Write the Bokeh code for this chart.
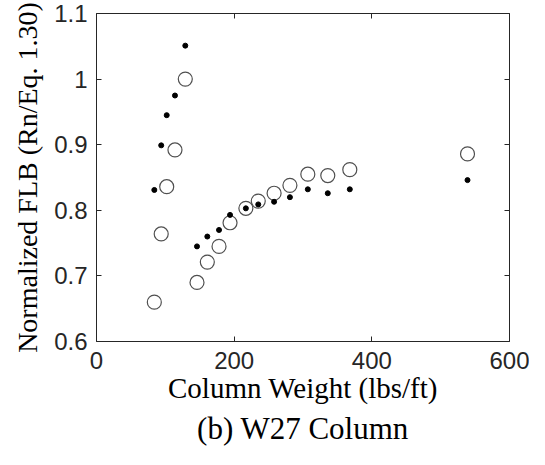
from bokeh.plotting import figure
from bokeh.models import LinearAxis, FixedTicker, CustomJSTickFormatter, Range1d
from bokeh.embed import file_html
from bokeh.resources import INLINE

weights = [84, 94, 102, 114, 129, 146, 161, 178, 194, 217, 235, 258, 281, 307, 336, 368, 539]
open_vals = [0.660, 0.764, 0.836, 0.892, 1.000, 0.690, 0.721, 0.745, 0.781, 0.803, 0.814, 0.826, 0.838, 0.855, 0.853, 0.862, 0.886]
dot_vals = [0.831, 0.899, 0.945, 0.975, 1.051, 0.745, 0.760, 0.770, 0.793, 0.803, 0.809, 0.813, 0.820, 0.832, 0.826, 0.832, 0.846]
x_ticks = [0, 200, 400, 600]
y_ticks = [0.6, 0.7, 0.8, 0.9, 1.0, 1.1]
x_title = "Column Weight (lbs/ft)"
y_title = "Normalized FLB (Rn/Eq. 1.30)"
chart_title = "(b) W27 Column"

AX = "#262626"
SERIF = "Liberation Serif"
SANS = "Liberation Sans"

W, H = 529, 449
FL, FR, FT, FB = 96, 509, 13, 341   # frame edges in figure pixels

p = figure(width=W, height=H, output_backend="svg", toolbar_location=None,
           x_range=Range1d(0, 600), y_range=Range1d(0.6, 1.1),
           min_border_left=FL, min_border_right=W - FR, min_border_top=FT,
           min_border_bottom=H - FB,
           x_axis_location=None, y_axis_location=None)
p.grid.visible = False
p.outline_line_color = None
p.background_fill_color = "white"

fmt = CustomJSTickFormatter(code="return String(Math.round(tick*10)/10);")

def style(ax, labels=True):
    ax.axis_line_color = AX
    ax.axis_line_width = 1
    ax.major_tick_in = 5
    ax.major_tick_out = 0
    ax.minor_tick_in = 0
    ax.minor_tick_out = 0
    ax.major_tick_line_color = AX
    if labels:
        ax.major_label_text_font = SANS
        ax.major_label_text_font_size = "24px"
        ax.major_label_text_color = AX
    else:
        ax.major_label_text_font_size = "0px"
        ax.major_label_standoff = 0
        ax.major_label_text_color = None

bx = LinearAxis(ticker=FixedTicker(ticks=x_ticks), formatter=fmt)
style(bx)
bx.major_label_standoff = 10
bx.axis_label = x_title
bx.axis_label_text_font = SERIF
bx.axis_label_text_font_style = "normal"
bx.axis_label_text_font_size = "29px"
bx.axis_label_text_color = "black"
bx.axis_label_standoff = 0
p.add_layout(bx, "below")

ly = LinearAxis(ticker=FixedTicker(ticks=y_ticks), formatter=fmt)
style(ly)
ly.major_label_standoff = 9
ly.axis_label = y_title
ly.axis_label_text_font = SERIF
ly.axis_label_text_font_style = "normal"
ly.axis_label_text_font_size = "28px"
ly.axis_label_text_color = "black"
ly.axis_label_standoff = 8
p.add_layout(ly, "left")

tx = LinearAxis(ticker=FixedTicker(ticks=x_ticks))
style(tx, labels=False)
p.add_layout(tx, "above")

ry = LinearAxis(ticker=FixedTicker(ticks=y_ticks))
style(ry, labels=False)
p.add_layout(ry, "right")

p.scatter(weights, open_vals, marker="circle", size=14, fill_color=None,
          line_color="#505050", line_width=1.2)
p.scatter(weights, dot_vals, marker="circle", size=5, fill_color="black",
          line_color="black")

p.title.text = chart_title
p.title_location = "below"
p.title.align = "center"
p.title.offset = -5
p.title.standoff = 4
p.title.text_font = SERIF
p.title.text_font_size = "31px"
p.title.text_font_style = "normal"
p.title.text_color = "black"

open("out.html", "w").write(file_html(p, INLINE))
